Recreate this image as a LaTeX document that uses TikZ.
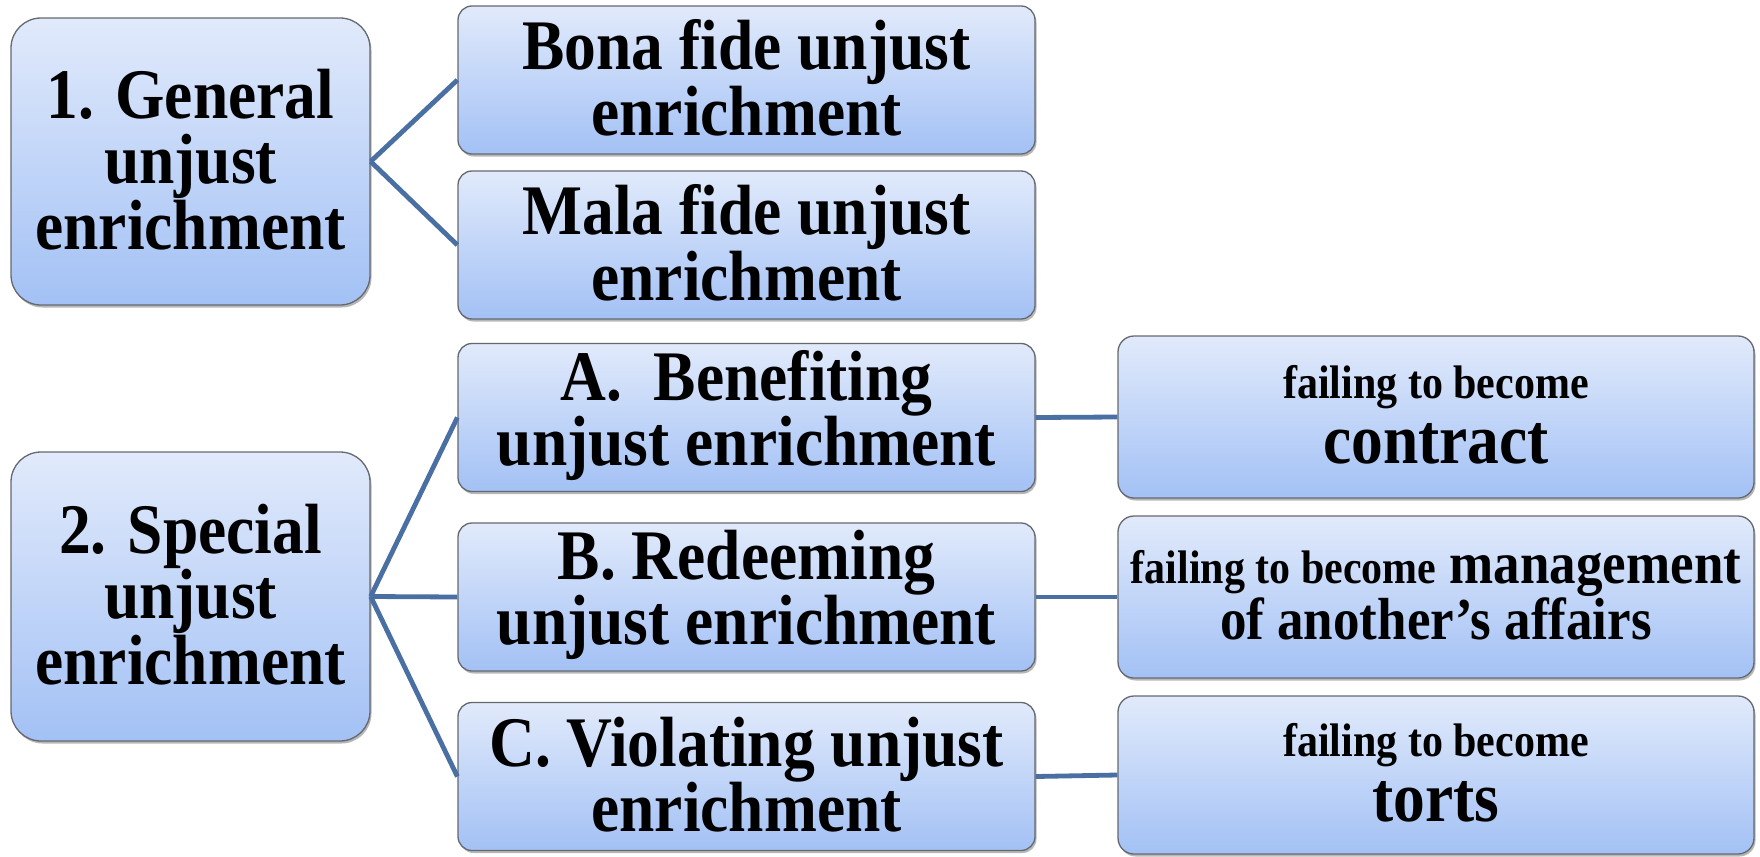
\documentclass[tikz,border=0pt]{standalone}
\usepackage{fontspec}
\setmainfont{Liberation Serif}
\usetikzlibrary{shadows}
\definecolor{topc}{HTML}{E1EAFB}
\definecolor{botc}{HTML}{A3C1F5}
\definecolor{edgec}{HTML}{65686F}
\definecolor{linkc}{HTML}{4A6FA3}
\newcommand{\BigF}{\bfseries\fontsize{63.5}{58.5}\selectfont}
\newcommand{\SmlF}{\bfseries\fontsize{42}{38}\selectfont}
\newcommand{\MidF}{\bfseries\fontsize{53}{47.7}\selectfont}
\newcommand{\vtext}[2]{\raisebox{2pt}[\height][\depth]{\scalebox{1}[1.12]{\parbox{#1pt}{\centering #2}}}}
\tikzset{
  box/.style={rectangle, rounded corners=14pt, draw=edgec, line width=1.3pt,
    top color=topc, bottom color=botc, inner sep=0pt, font=\BigF,
    drop shadow={shadow xshift=1.5pt, shadow yshift=-2.5pt, opacity=0.4, fill=black!70}},
  bigbox/.style={box, rounded corners=30pt, minimum width=359pt},
  midbox/.style={box, minimum width=577pt, minimum height=148pt},
  rightbox/.style={box, rounded corners=16pt, minimum width=636pt},
  link/.style={draw=linkc, line width=4.8pt}
}
\begin{document}
\begin{tikzpicture}[x=1pt,y=-1pt]
\useasboundingbox (0,0) rectangle (1760,856);
% left boxes
\node[bigbox, minimum height=287pt] (gen) at (190.5,161.5) {\vtext{340}{1. General\\unjust\\enrichment}};
\node[bigbox, minimum height=289pt] (spe) at (190.5,596.5) {\vtext{340}{2. Special\\unjust\\enrichment}};
% middle boxes
\node[midbox] (bona) at (746.5,80) {\vtext{560}{Bona fide unjust\\enrichment}};
\node[midbox] (mala) at (746.5,245) {\vtext{560}{Mala fide unjust\\enrichment}};
\node[midbox] (ben) at (746.5,417.5) {\vtext{560}{A.\ \ Benefiting\\unjust enrichment}};
\node[midbox] (red) at (746.5,597) {\vtext{560}{B. Redeeming\\unjust enrichment}};
\node[midbox] (vio) at (746.5,776.5) {\vtext{560}{C. Violating unjust\\enrichment}};
% right boxes
\node[rightbox, minimum height=162pt] (con) at (1436,417) {\vtext{620}{{\SmlF failing to become}\\contract}};
\node[rightbox, minimum height=162pt, font=\MidF] (man) at (1436,597) {\vtext{630}{{\SmlF failing to become} management\\of another’s affairs}};
\node[rightbox, minimum height=158pt] (tor) at (1436,775) {\vtext{620}{{\SmlF failing to become}\\torts}};
% connectors
\draw[link] (gen.east) -- (bona.west);
\draw[link] (gen.east) -- (mala.west);
\draw[link] (spe.east) -- (ben.west);
\draw[link] (spe.east) -- (red.west);
\draw[link] (spe.east) -- (vio.west);
\draw[link] (ben.east) -- (con.west);
\draw[link] (red.east) -- (man.west);
\draw[link] (vio.east) -- (tor.west);
\end{tikzpicture}
\end{document}
